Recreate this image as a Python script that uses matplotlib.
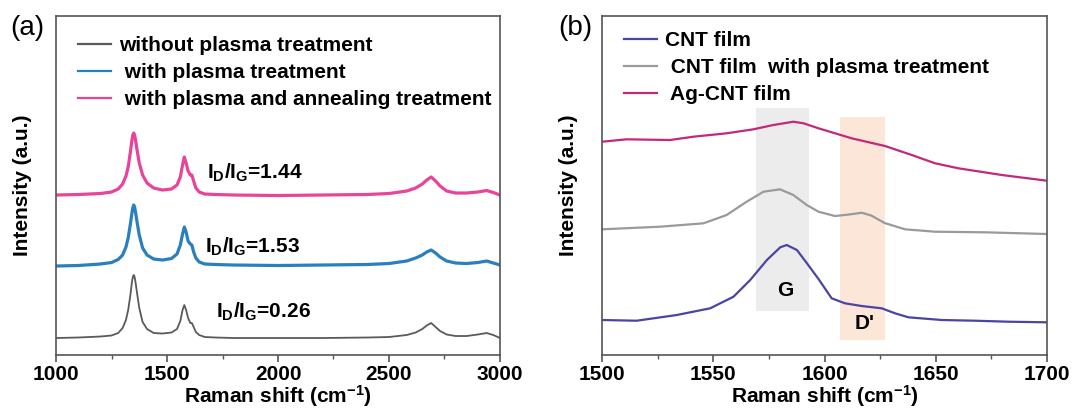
## Raman spectra of CNT films, two panels

import matplotlib
matplotlib.use("Agg")
import matplotlib.pyplot as plt

plt.rcParams['font.family'] = ['Liberation Sans', 'DejaVu Sans']
plt.rcParams['mathtext.fontset'] = 'custom'
plt.rcParams['mathtext.rm'] = 'Liberation Sans:bold'
plt.rcParams['mathtext.it'] = 'Liberation Sans:bold'
plt.rcParams['mathtext.bf'] = 'Liberation Sans:bold'

######################################
## panel (a): full spectra, offset for display
shift_a = [1000, 1100, 1200, 1250, 1280, 1300, 1315, 1325, 1335, 1342, 1346, 1350, 1354, 1358,
           1365, 1375, 1390, 1410, 1440, 1480, 1520, 1545, 1560, 1570, 1578, 1586, 1595, 1605,
           1612, 1620, 1630, 1645, 1670, 1720, 1800, 2000, 2200, 2400, 2500, 2580, 2620, 2650,
           2670, 2690, 2710, 2730, 2760, 2800, 2850, 2900, 2940, 2970, 3000]
no_plasma = [17, 17.5, 18.5, 19.5, 22, 27, 35, 45, 60, 73, 78, 80, 78, 73,
             62, 47, 33, 26, 22, 21.5, 22.5, 26, 34, 45, 50, 45, 37, 32,
             32, 28, 23, 20, 18, 17.5, 17, 17, 17, 17.5, 18, 20, 22.5, 26,
             29.5, 32, 28, 24, 20.5, 19, 19, 20.5, 22, 20, 17]
plasma = [89, 89.5, 91, 92.5, 95.5, 100, 108, 117, 131, 142, 147, 150, 148, 143,
          133, 120, 107, 100, 96, 95, 96.5, 101, 110, 121, 128, 123, 114, 111,
          110, 103, 97, 93, 91, 90.5, 90, 89.5, 90, 90.5, 91.5, 94, 97, 100,
          103, 105, 102, 98, 94, 92, 91.5, 92.5, 94, 92, 90]
plasma_anneal = [160, 160.5, 161.5, 163, 166, 171, 179, 188, 203, 215, 220, 222, 220, 215,
                 205, 192, 180, 172, 167, 165, 166, 170, 178, 190, 198, 192, 184, 180,
                 180, 174, 167, 163, 161, 160.5, 160, 159.5, 160, 160.5, 161.5, 164, 167, 171,
                 175, 178, 174, 169, 164, 162, 162, 163, 164.5, 162.5, 160]
labels_a = ['without plasma treatment', ' with plasma treatment', ' with plasma and annealing treatment']
ratio_text = ['I$_D$/I$_G$=0.26', 'I$_D$/I$_G$=1.53', 'I$_D$/I$_G$=1.44']
ratio_x = [1721, 1671, 1680]
ratio_y = [43, 108, 182]

## panel (b): G band region
cnt_x = [1500, 1515.6, 1533.6, 1548.6, 1559.1, 1566.6, 1574.1, 1580.1, 1583, 1587.6, 1592.1,
         1597.3, 1603.2, 1609.2, 1616.7, 1625.7, 1631.7, 1637.7, 1652.7, 1667.7, 1682.7, 1700]
cnt = [35, 34.3, 40, 46.7, 58.3, 75, 95, 107.7, 110, 105, 91.7,
       76, 56.7, 51.7, 49, 46.7, 41.7, 37.7, 35, 34.3, 33.3, 32.7]
plasma_x = [1500, 1526, 1545.6, 1556, 1565, 1572.6, 1580, 1586, 1592, 1597.3, 1604.7,
            1611, 1616.7, 1621, 1627, 1636.2, 1649.7, 1672.2, 1700]
cnt_plasma = [125.7, 128.3, 131.7, 140, 153.3, 163.3, 165.7, 160, 150, 143.3, 139,
              140.5, 142.3, 139.5, 132, 125.7, 123.3, 122.7, 121]
ag_x = [1500, 1511, 1530.6, 1541, 1556, 1568, 1577, 1586, 1590.6, 1597.3, 1612.2,
        1627.2, 1639.2, 1649.7, 1660.2, 1679.7, 1700]
ag_cnt = [213.3, 215.7, 215, 218.3, 221.7, 225.7, 230, 233.3, 231.7, 226.7, 216.7,
          209, 200, 191.7, 186.7, 180, 174.3]
labels_b = ['CNT film', ' CNT film  with plasma treatment', ' Ag-CNT film']
g_band = [1569, 1593, 44, 247]
d_band = [1607, 1627, 15, 238]

######################################
fig = plt.figure(figsize=(10.9, 4.16), dpi=100)
ax1 = fig.add_axes([0.0514, 0.1466, 0.4073, 0.8149])
ax2 = fig.add_axes([0.5523, 0.1466, 0.4083, 0.8149])

ax1.plot(shift_a, no_plasma, color='#5a5a5a', lw=1.3, label=labels_a[0])
ax1.plot(shift_a, plasma, color='#2a7fbf', lw=2.3, label=labels_a[1])
ax1.plot(shift_a, plasma_anneal, color='#e8449a', lw=2.3, label=labels_a[2])
for t, x, y in zip(ratio_text, ratio_x, ratio_y):
    ax1.text(x, y, t, fontsize=15, fontweight='bold', va='center')
ax1.set_xlim(1000, 3000)
ax1.set_xticks([1000, 1500, 2000, 2500, 3000])
ax1.set_xticks([1250, 1750, 2250, 2750], minor=True)

ax2.fill_between(g_band[:2], g_band[2], g_band[3], color='#ececec', lw=0, zorder=0)
ax2.fill_between(d_band[:2], d_band[2], d_band[3], color='#fce6d8', lw=0, zorder=0)
ax2.plot(cnt_x, cnt, color='#4a44a2', lw=1.6, label=labels_b[0])
ax2.plot(plasma_x, cnt_plasma, color='#9a9a9a', lw=1.6, label=labels_b[1])
ax2.plot(ag_x, ag_cnt, color='#c2287c', lw=1.6, label=labels_b[2])
ax2.text(1582.3, 65, 'G', fontsize=15, fontweight='bold', ha='center', va='center')
ax2.text(1618, 32, "D'", fontsize=15, fontweight='bold', ha='center', va='center')
ax2.set_xlim(1500, 1700)
ax2.set_xticks([1500, 1550, 1600, 1650, 1700])
ax2.set_xticks([1525, 1575, 1625, 1675], minor=True)

for ax, lab, lx, ly in [(ax1, '(a)', -0.104, 0.941), (ax2, '(b)', -0.099, 0.955)]:
    ax.set_ylim(0, 339)
    ax.set_yticks([])
    for s in ax.spines.values():
        s.set_color('#555555')
        s.set_linewidth(1.2)
    ax.tick_params(axis='x', which='major', direction='out', length=5, width=1.2,
                   color='#555555', labelsize=15, pad=2)
    ax.tick_params(axis='x', which='minor', direction='out', length=3, width=1.0, color='#555555')
    for t in ax.get_xticklabels():
        t.set_fontweight('bold')
    ax.set_xlabel('Raman shift (cm$^{-1}$)', fontsize=15, fontweight='bold')
    ax.xaxis.set_label_coords(0.5, -0.083)
    ax.set_ylabel('Intensity (a.u.)', fontsize=15, fontweight='bold')
    ax.yaxis.set_label_coords(-0.055, 0.5)
    ax.text(lx, 0.965, lab, transform=ax.transAxes, fontsize=20, va='center')
    leg = ax.legend(loc='upper left', bbox_to_anchor=(0.05, ly), frameon=False,
                    borderaxespad=0, borderpad=0,
                    prop={'weight': 'bold', 'size': 15}, handlelength=1.55,
                    handletextpad=0.4, labelspacing=0.38)
    for l in leg.get_lines():
        l.set_linewidth(1.6)

fig.savefig('out.png', dpi=100)
plt.close()
